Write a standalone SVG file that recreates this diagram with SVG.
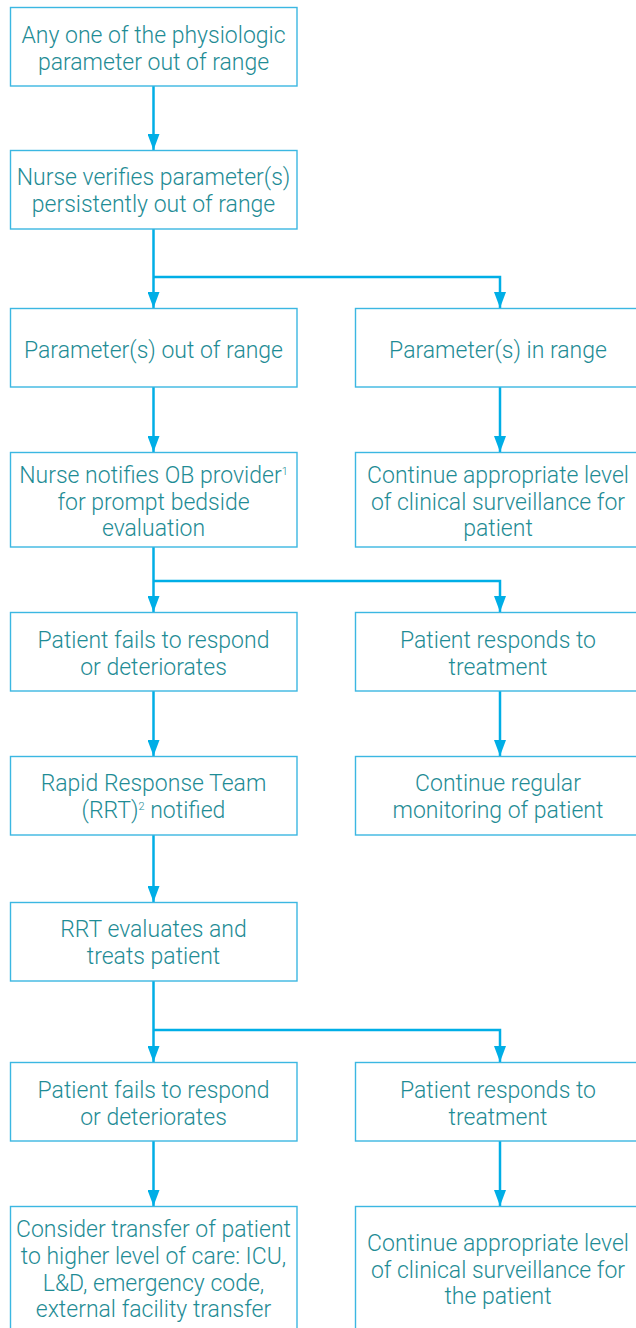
<svg xmlns="http://www.w3.org/2000/svg" width="636" height="1328" viewBox="0 0 636 1328">
<style>
.box{fill:#fff;stroke:#3bb7e2;stroke-width:1.4}
.t{font-family:Roboto,"Liberation Sans",Arial,sans-serif;font-weight:300;font-size:23px;fill:#1f8c95;text-anchor:middle}
.c{fill:none;stroke:#00aee6;stroke-width:2.5}
.sup{font-size:11px}
</style>
<defs>
<marker id="ah" markerUnits="userSpaceOnUse" markerWidth="16" markerHeight="12" refX="16" refY="6" orient="auto">
<path d="M0,0 L16,6 L0,12 z" fill="#00aee6"/>
</marker>
</defs>
<rect width="636" height="1328" fill="#fff"/>
<g id="connectors">
<path class="c" d="M153.5,86 V150" marker-end="url(#ah)"/>
<path class="c" d="M153.5,229 V308" marker-end="url(#ah)"/>
<path class="c" d="M153.5,277 H500 V308" marker-end="url(#ah)"/>
<path class="c" d="M153.5,387 V452" marker-end="url(#ah)"/>
<path class="c" d="M500,387 V452" marker-end="url(#ah)"/>
<path class="c" d="M153.5,535 V612" marker-end="url(#ah)"/>
<path class="c" d="M153.5,581 H500 V612" marker-end="url(#ah)"/>
<path class="c" d="M153.5,691 V756" marker-end="url(#ah)"/>
<path class="c" d="M500,691 V756" marker-end="url(#ah)"/>
<path class="c" d="M153.5,835 V902" marker-end="url(#ah)"/>
<path class="c" d="M153.5,981 V1062" marker-end="url(#ah)"/>
<path class="c" d="M153.5,1030 H500 V1062" marker-end="url(#ah)"/>
<path class="c" d="M153.5,1141 V1206" marker-end="url(#ah)"/>
<path class="c" d="M500,1141 V1206" marker-end="url(#ah)"/>
</g>
<g id="n1"><rect class="box" x="10.5" y="7.5" width="286.5" height="78.5"/>
<text class="t" x="153.5" y="43">Any one of the physiologic</text>
<text class="t" x="153.5" y="69.5">parameter out of range</text></g>
<g id="n2"><rect class="box" x="10.5" y="150.5" width="286.5" height="78.5"/>
<text class="t" x="153.5" y="185">Nurse verifies parameter(s)</text>
<text class="t" x="153.5" y="211.5">persistently out of range</text></g>
<g id="n3"><rect class="box" x="10.5" y="308.5" width="286.5" height="78.5"/>
<text class="t" x="153.5" y="358">Parameter(s) out of range</text></g>
<g id="n3r"><rect class="box" x="355.5" y="308.5" width="300" height="78.5"/>
<text class="t" x="498" y="358">Parameter(s) in range</text></g>
<g id="n4"><rect class="box" x="10.5" y="452.5" width="286.5" height="94.5"/>
<text class="t" x="153.5" y="483">Nurse notifies OB provider<tspan class="sup" dy="-8">1</tspan></text>
<text class="t" x="153.5" y="509.5">for prompt bedside</text>
<text class="t" x="153.5" y="536">evaluation</text></g>
<g id="n4r"><rect class="box" x="355.5" y="452.5" width="300" height="94.5"/>
<text class="t" x="498" y="483">Continue appropriate level</text>
<text class="t" x="498" y="509.5">of clinical surveillance for</text>
<text class="t" x="498" y="536">patient</text></g>
<g id="n5"><rect class="box" x="10.5" y="612.5" width="286.5" height="78.5"/>
<text class="t" x="153.5" y="648">Patient fails to respond</text>
<text class="t" x="153.5" y="674.5">or deteriorates</text></g>
<g id="n5r"><rect class="box" x="355.5" y="612.5" width="300" height="78.5"/>
<text class="t" x="498" y="648">Patient responds to</text>
<text class="t" x="498" y="674.5">treatment</text></g>
<g id="n6"><rect class="box" x="10.5" y="756.5" width="286.5" height="78.5"/>
<text class="t" x="153.5" y="791">Rapid Response Team</text>
<text class="t" x="153.5" y="817.5">(RRT)<tspan class="sup" dy="-8">2</tspan><tspan dy="8"> notified</tspan></text></g>
<g id="n6r"><rect class="box" x="355.5" y="756.5" width="300" height="78.5"/>
<text class="t" x="498" y="791">Continue regular</text>
<text class="t" x="498" y="817.5">monitoring of patient</text></g>
<g id="n7"><rect class="box" x="10.5" y="902.5" width="286.5" height="78.5"/>
<text class="t" x="153.5" y="937">RRT evaluates and</text>
<text class="t" x="153.5" y="963.5">treats patient</text></g>
<g id="n8"><rect class="box" x="10.5" y="1062.5" width="286.5" height="78.5"/>
<text class="t" x="153.5" y="1098">Patient fails to respond</text>
<text class="t" x="153.5" y="1124.5">or deteriorates</text></g>
<g id="n8r"><rect class="box" x="355.5" y="1062.5" width="300" height="78.5"/>
<text class="t" x="498" y="1098">Patient responds to</text>
<text class="t" x="498" y="1124.5">treatment</text></g>
<g id="n9"><rect class="box" x="10.5" y="1206.5" width="286.5" height="140"/>
<text class="t" x="153.5" y="1237">Consider transfer of patient</text>
<text class="t" x="153.5" y="1263.5">to higher level of care: ICU,</text>
<text class="t" x="153.5" y="1290.5">L&amp;D, emergency code,</text>
<text class="t" x="153.5" y="1317">external facility transfer</text></g>
<g id="n9r"><rect class="box" x="355.5" y="1206.5" width="300" height="140"/>
<text class="t" x="498" y="1251">Continue appropriate level</text>
<text class="t" x="498" y="1277.5">of clinical surveillance for</text>
<text class="t" x="498" y="1304">the patient</text></g>
</svg>
